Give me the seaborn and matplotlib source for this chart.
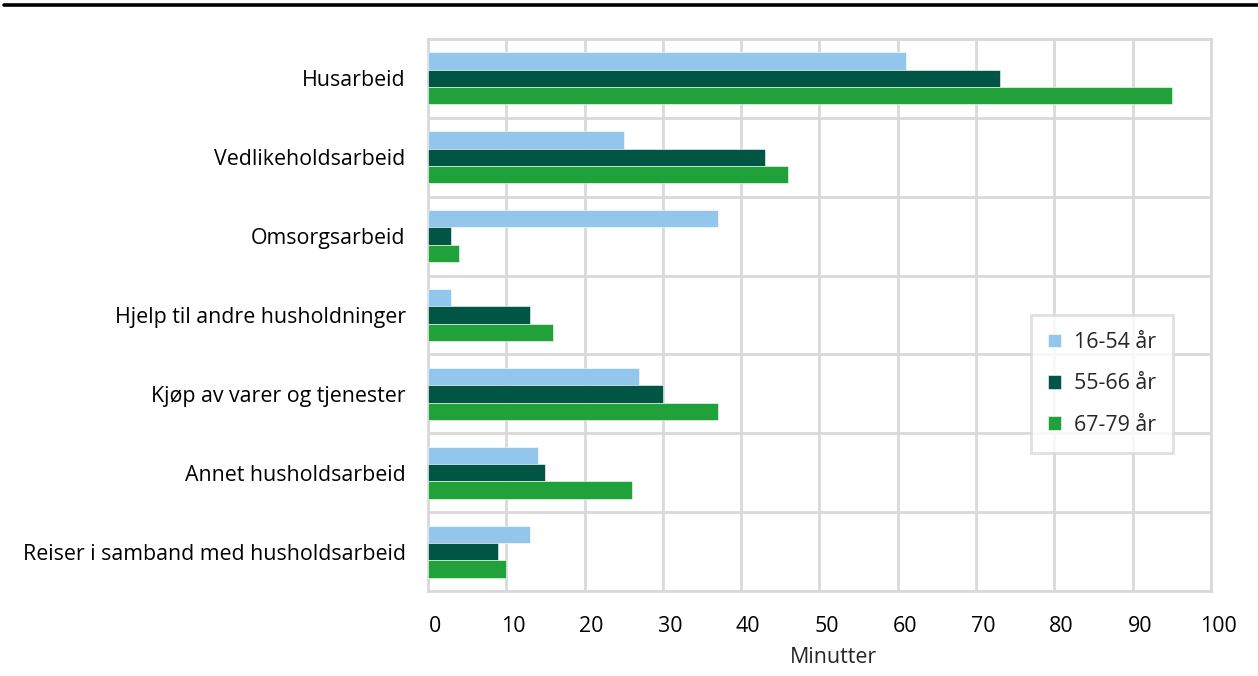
import pandas as pd
import matplotlib.pyplot as plt
import matplotlib.lines as mlines
import matplotlib.transforms as mtransforms
import seaborn as sns

# Data
kategorier = [
    "Husarbeid",
    "Vedlikeholdsarbeid",
    "Omsorgsarbeid",
    "Hjelp til andre husholdninger",
    "Kjøp av varer og tjenester",
    "Annet husholdsarbeid",
    "Reiser i samband med husholdsarbeid",
]
grupper = ["16-54 år", "55-66 år", "67-79 år"]
alder_16_54 = [61, 25, 37, 3, 27, 14, 13]
alder_55_66 = [73, 43, 3, 13, 30, 15, 9]
alder_67_79 = [95, 46, 4, 16, 37, 26, 10]
farger = ["#93C6EC", "#005545", "#21A13A"]

df = pd.DataFrame({"Aktivitet": kategorier,
                   grupper[0]: alder_16_54,
                   grupper[1]: alder_55_66,
                   grupper[2]: alder_67_79})
df_melted = df.melt(id_vars="Aktivitet", var_name="Alder", value_name="Minutter")

sns.set_style("white")
plt.rcParams["font.family"] = ["Open Sans", "DejaVu Sans"]

fig, ax = plt.subplots(figsize=(12.58, 6.76), dpi=100)
fig.subplots_adjust(left=0.3402, right=0.9626, top=0.9423, bottom=0.1257)

sns.barplot(data=df_melted, y="Aktivitet", x="Minutter", hue="Alder",
            order=kategorier, hue_order=grupper, palette=farger,
            width=0.66, orient="h", edgecolor="white", linewidth=0.4,
            saturation=1, ax=ax, zorder=3)

# Akser og rutenett
ax.set_xlim(0, 100)
ax.set_ylim(len(kategorier) - 0.5, -0.5)
ax.set_xticks(range(0, 101, 10))
ax.set_yticks([i + 0.5 for i in range(-1, len(kategorier))], minor=True)
ax.grid(axis="x", which="major", color="#d9d9d9", linewidth=2, zorder=0)
ax.grid(axis="y", which="minor", color="#d9d9d9", linewidth=2, zorder=0)
ax.set_axisbelow(True)
for s in ax.spines.values():
    s.set_color("#d9d9d9")
    s.set_linewidth(2)

fs = 15.4
ax.tick_params(axis="both", which="both", length=0, labelsize=fs, colors="black")
ax.tick_params(axis="x", pad=18)
ax.tick_params(axis="y", pad=16)
ax.set_xlabel("Minutter", fontsize=fs, labelpad=7)
ax.set_ylabel("")

# tallene under aksen står litt til høyre for rutenettet
forskyv = mtransforms.ScaledTranslation(7 / 100, 0, fig.dpi_scale_trans)
for lbl in ax.get_xticklabels():
    lbl.set_transform(lbl.get_transform() + forskyv)
ax.xaxis.label.set_transform(ax.xaxis.label.get_transform() +
                             mtransforms.ScaledTranslation(14 / 100, 0, fig.dpi_scale_trans))

leg = ax.legend(title=None, loc="upper left", bbox_to_anchor=(0.77, 0.5),
                frameon=True, fancybox=False, fontsize=fs, labelspacing=0.95,
                handlelength=0.6, handleheight=0.6, handletextpad=0.6,
                borderpad=0.8, borderaxespad=0)
leg.get_frame().set_edgecolor("#d9d9d9")
leg.get_frame().set_linewidth(2)

# Svart linje øverst
fig.add_artist(mlines.Line2D([0.003, 1], [0.9925, 0.9925], color="black",
                             linewidth=2.6, transform=fig.transFigure))

plt.savefig("out.png", dpi=100)
